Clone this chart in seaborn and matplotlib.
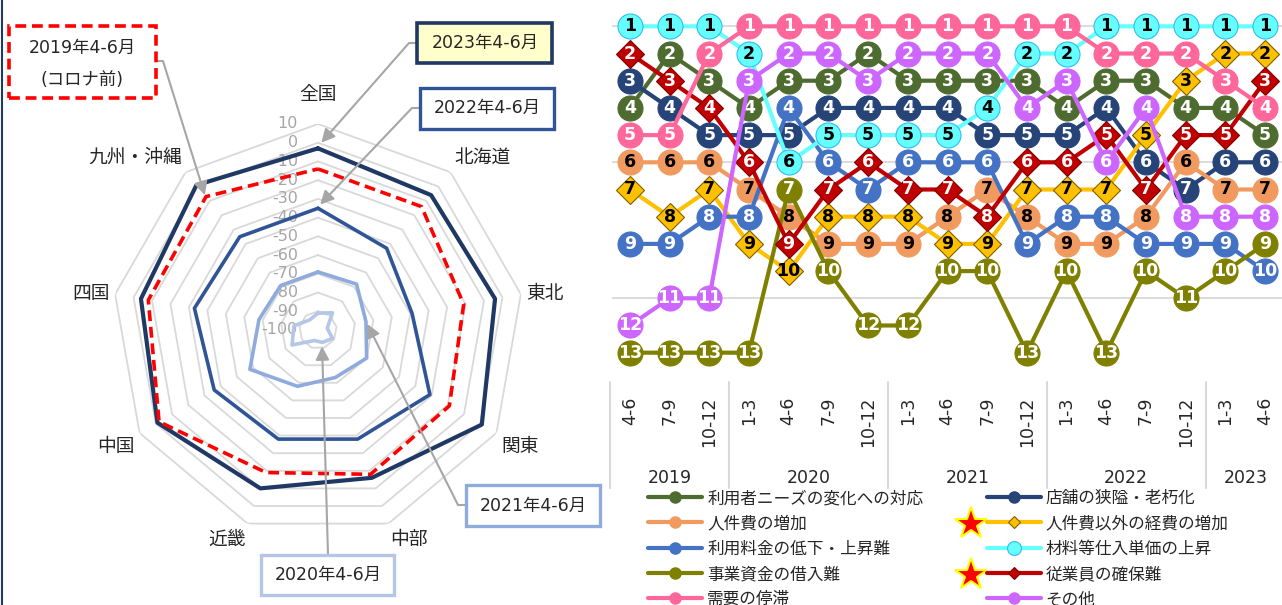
import numpy as np
import matplotlib
matplotlib.use("Agg")
import matplotlib.pyplot as plt
import seaborn as sns
from matplotlib.lines import Line2D
from matplotlib.patches import Rectangle
from matplotlib.font_manager import FontProperties
from matplotlib.transforms import ScaledTranslation, IdentityTransform, blended_transform_factory

sns.set_theme(style="white")
plt.rcParams["font.family"] = ["DejaVu Sans", "Noto Sans CJK JP"]
JP = ["Noto Sans CJK JP", "DejaVu Sans"]

# ---------------- radar data (DI by region, April-June) ----------------
regions = ["全国", "北海道", "東北", "関東", "中部", "近畿", "中国", "四国", "九州・沖縄"]
di_2019 = [-14, -14, -21, -19, -18, -19, -2, -8, -7]
di_2020 = [-91, -88, -95, -91, -93, -94, -84, -87, -93]
di_2021 = [-69, -68, -74, -70, -73, -68, -58, -68, -69]
di_2022 = [-35, -43, -49, -31, -38, -38, -36, -33, -35]
di_2023 = [-3, -6, -4, 1, -16, -10, -1, -4, 1]
radar_ticks = list(range(10, -101, -10))

# ---------------- ranking data ----------------
periods = ["4-6", "7-9", "10-12", "1-3", "4-6", "7-9", "10-12", "1-3", "4-6", "7-9",
           "10-12", "1-3", "4-6", "7-9", "10-12", "1-3", "4-6"]
years = ["2019", "2020", "2021", "2022", "2023"]
year_span = [3, 4, 4, 4, 2]

names = ["利用者ニーズの変化への対応", "店舗の狭隘・老朽化", "人件費の増加", "人件費以外の経費の増加",
         "利用料金の低下・上昇難", "材料等仕入単価の上昇", "事業資金の借入難", "従業員の確保難",
         "需要の停滞", "その他"]
rank_needs = [4, 2, 3, 4, 3, 3, 2, 3, 3, 3, 3, 4, 3, 3, 4, 4, 5]
rank_store = [3, 4, 5, 5, 5, 4, 4, 4, 4, 5, 5, 5, 4, 6, 7, 6, 6]
rank_labor = [6, 6, 6, 7, 8, 9, 9, 9, 8, 7, 8, 9, 9, 8, 6, 7, 7]
rank_other_cost = [7, 8, 7, 9, 10, 8, 8, 8, 9, 9, 7, 7, 7, 5, 3, 2, 2]
rank_price = [9, 9, 8, 8, 4, 6, 7, 6, 6, 6, 9, 8, 8, 9, 9, 9, 10]
rank_material = [1, 1, 1, 2, 6, 5, 5, 5, 5, 4, 2, 2, 1, 1, 1, 1, 1]
rank_funding = [13, 13, 13, 13, 7, 10, 12, 12, 10, 10, 13, 10, 13, 10, 11, 10, 9]
rank_staff = [2, 3, 4, 6, 9, 7, 6, 7, 7, 8, 6, 6, 5, 7, 5, 5, 3]
rank_demand = [5, 5, 2, 1, 1, 1, 1, 1, 1, 1, 1, 1, 2, 2, 2, 3, 4]
rank_etc = [12, 11, 11, 3, 2, 2, 3, 2, 2, 2, 4, 3, 6, 4, 8, 8, 8]
all_ranks = [rank_needs, rank_store, rank_labor, rank_other_cost, rank_price,
             rank_material, rank_funding, rank_staff, rank_demand, rank_etc]
starred = ["人件費以外の経費の増加", "従業員の確保難"]

# ---------------- styles ----------------
colors = ["#4E6B30", "#264478", "#F19A60", "#FFC000", "#4472C4",
          "#66FFFF", "#808000", "#C00000", "#FF6699", "#CC66FF"]
mk = ["o", "o", "o", "D", "o", "o", "o", "D", "o", "o"]
mec = ["#4E6B30", "#264478", "#F19A60", "#7F6000", "#4472C4",
       "#33BBEE", "#808000", "#7F0000", "#FF6699", "#CC66FF"]
txt_col = ["white", "white", "black", "black", "white", "black", "white", "white", "white", "white"]

W, H = 1282, 605
fig = plt.figure(figsize=(W / 100, H / 100), dpi=100)
fig.patch.set_facecolor("white")


def fx(px):
    return px / W


def fy(py):
    return 1 - py / H


# ================= right: ranking chart =================
ax = fig.add_axes([fx(612), fy(369), fx(671), 359 / H])
x = np.arange(len(periods))
for k, (ranks, c) in enumerate(zip(all_ranks, colors)):
    z = 3 + 2 * k
    ms = 18 if mk[k] == "o" else 14
    sns.lineplot(x=x, y=ranks, ax=ax, color=c, lw=3, marker=mk[k], markersize=ms,
                 markeredgecolor=mec[k], markeredgewidth=0.8, legend=False, zorder=z)
    for xi, r in zip(x, ranks):
        ax.text(xi, r, str(r), ha="center", va="center", color=txt_col[k],
                fontsize=12.5, fontweight="bold", family="DejaVu Sans", zorder=z + 1)

ax.set_xlim(-0.45, 16.45)
ax.set_ylim(13.6, 0.4)
ax.set_yticks([1, 6, 11])
ax.set_yticklabels([])
ax.yaxis.grid(True, color="#D9D9D9", lw=1.3)
ax.xaxis.grid(False)
ax.set_axisbelow(True)
ax.tick_params(axis="y", length=0)
ax.set_xticks(x, periods, rotation=90, fontsize=12.5)
ax.tick_params(axis="x", length=0, pad=20)
ax.set_xlabel("")
ax.set_ylabel("")
for s in ax.spines.values():
    s.set_visible(False)

trans = blended_transform_factory(ax.transData, ax.transAxes)
cum = np.cumsum([0] + year_span)
for b in cum - 0.5:
    ax.plot([b, b], [-0.036, -0.331], transform=trans, color="#D9D9D9", lw=1.5, clip_on=False)
for i, yname in enumerate(years):
    c = (cum[i] + cum[i + 1] - 1) / 2
    ax.text(c, -0.304, yname, transform=trans, ha="center", va="center", fontsize=12.5)

# legend (Excel order row-major -> matplotlib column-major)
handles = []
for k in range(10):
    if k == 5:
        h = Line2D([], [], color=colors[k], lw=3, marker="o", markersize=10,
                   markerfacecolor=colors[k], markeredgecolor=mec[k], markeredgewidth=0.8)
    elif mk[k] == "D":
        h = Line2D([], [], color=colors[k], lw=3, marker="D", markersize=6,
                   markeredgecolor=mec[k], markeredgewidth=0.8)
    else:
        h = Line2D([], [], color=colors[k], lw=3, marker="o", markersize=8)
    handles.append(h)
order = [0, 2, 4, 6, 8, 1, 3, 5, 7, 9]
leg = fig.legend([handles[i] for i in order], [names[i] for i in order], ncol=2,
                 loc="upper left", bbox_to_anchor=(fx(648), fy(490)), frameon=False,
                 prop=FontProperties(family=JP, size=12), handlelength=3.25,
                 handletextpad=0.3, columnspacing=3.8, labelspacing=0.5,
                 borderpad=0, borderaxespad=0)

# ================= left: radar chart =================
pax = fig.add_axes([fx(112), fy(536), fx(412), 412 / H], projection="polar")
pax.set_theta_zero_location("N")
pax.set_theta_direction(-1)
pax.set_facecolor("none")
theta = np.arange(len(regions)) * 2 * np.pi / len(regions)
theta_c = np.append(theta, 2 * np.pi)
for lvl in radar_ticks[:-1]:
    pax.plot(theta_c, [lvl] * len(theta_c), color="#D9D9D9", lw=1.3, zorder=1)

radar_series = [
    (di_2020, "#B4C7E7", 2.6, "-"),
    (di_2021, "#8FAADC", 2.6, "-"),
    (di_2022, "#2F5597", 2.6, "-"),
    (di_2023, "#203864", 3.0, "-"),
    (di_2019, "#FF0000", 2.6, (0, (3, 1.6))),
]
for z, (vals, c, lw, ls) in enumerate(radar_series):
    sns.lineplot(x=theta_c, y=np.append(vals, vals[0]), ax=pax, color=c, lw=lw,
                 linestyle=ls, sort=False, legend=False, zorder=3 + z)

pax.set_ylim(-100, 10)
pax.grid(False)
pax.set_xticks([])
pax.set_yticks([])
pax.set_xlabel("")
pax.set_ylabel("")
pax.spines["polar"].set_visible(False)

off = ScaledTranslation(-0.2, 0, fig.dpi_scale_trans)
for v in radar_ticks:
    pax.text(0, v, str(v), ha="right", va="center", color="#A6A6A6", fontsize=11.5,
             transform=pax.transData + off, zorder=2)

for th, name in zip(theta, regions):
    s, c = np.sin(th), np.cos(th)
    ha = "left" if s > 0.1 else ("right" if s < -0.1 else "center")
    va = "bottom" if c > 0.3 else ("top" if c < -0.3 else "center")
    r = 20 if c > 0.9 else 13
    pax.text(th, r, name, ha=ha, va=va, fontsize=13.5, family=JP)

# ---- callout boxes ----
def box(x0, y0, x1, y1, ec, fc, lw, ls="-"):
    fig.add_artist(Rectangle((fx(x0), fy(y1)), fx(x1 - x0), (y1 - y0) / H,
                             transform=fig.transFigure, ec=ec, fc=fc, lw=lw, ls=ls, zorder=10))


def arrow(tip, start, angA=None, arm=0):
    cs = "arc3,rad=0" if angA is None else f"arc,angleA={angA},angleB=0,armA={arm},armB=0,rad=0"
    pax.annotate("", xy=tip, xycoords="data", xytext=(start[0], H - start[1]),
                 textcoords="figure pixels", annotation_clip=False,
                 arrowprops=dict(arrowstyle="-|>,head_length=0.5,head_width=0.25",
                                 mutation_scale=16, color="#A6A6A6", lw=1.5,
                                 shrinkA=0, shrinkB=0, connectionstyle=cs), zorder=9)


tfont = dict(fontsize=12.5, ha="center", va="center", family=["DejaVu Sans", "Noto Sans CJK JP"], zorder=11)
box(9, 26, 156, 98, "#FF0000", "white", 2.6, (0, (3, 1.6)))
fig.text(fx(82), fy(48), "2019年4-6月", **tfont)
fig.text(fx(82), fy(80), "(コロナ前)", **tfont)
arrow((np.deg2rad(320), -6), (156, 61), 0, 7)

box(417, 23, 552, 63, "#203864", "#FFFFCC", 2.6)
fig.text(fx(485), fy(43), "2023年4-6月", **tfont)
arrow((np.deg2rad(1), 0), (417, 43), 180, 8)

box(420, 88, 554, 129, "#2F5597", "white", 2.4)
fig.text(fx(487), fy(108), "2022年4-6月", **tfont)
arrow((np.deg2rad(1), -33), (420, 108), 180, 8)

box(466, 485, 600, 526, "#8FAADC", "white", 2.4)
fig.text(fx(533), fy(506), "2021年4-6月", **tfont)
arrow((np.deg2rad(83), -73.5), (466, 505), 180, 8)

box(261, 555, 394, 595, "#B4C7E7", "white", 2.4)
fig.text(fx(328), fy(575), "2020年4-6月", **tfont)
arrow((np.deg2rad(166), -91), (328, 555))

# left border
fig.add_artist(Line2D([fx(1.5), fx(1.5)], [0, 1], transform=fig.transFigure, color="#1F3864", lw=1.5))

# stars next to highlighted legend items
fig.canvas.draw()
for t in leg.get_texts():
    if t.get_text() in starred:
        bb = t.get_window_extent()
        fig.add_artist(Line2D([bb.x0 - 75], [(bb.y0 + bb.y1) / 2], transform=IdentityTransform(),
                              marker="*", markersize=24, markerfacecolor="#FF0000",
                              markeredgecolor="#FFFF00", markeredgewidth=1.5, lw=0))

fig.savefig("out.png", dpi=100, facecolor="white")
